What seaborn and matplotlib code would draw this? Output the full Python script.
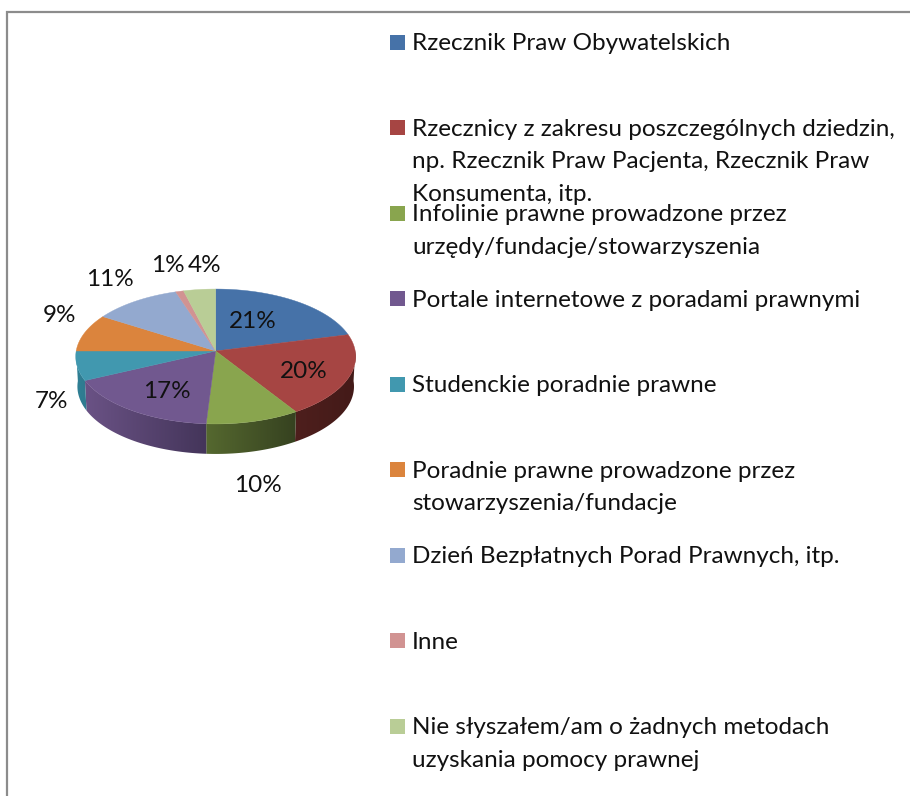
import numpy as np
import matplotlib
matplotlib.use("Agg")
import matplotlib.pyplot as plt
from matplotlib.patches import Polygon, Rectangle
import seaborn as sns

legend_labels = [
    "Rzecznik Praw Obywatelskich",
    "Rzecznicy z zakresu poszczególnych dziedzin,\nnp. Rzecznik Praw Pacjenta, Rzecznik Praw\nKonsumenta, itp.",
    "Infolinie prawne prowadzone przez\nurzędy/fundacje/stowarzyszenia",
    "Portale internetowe z poradami prawnymi",
    "Studenckie poradnie prawne",
    "Poradnie prawne prowadzone przez\nstowarzyszenia/fundacje",
    "Dzień Bezpłatnych Porad Prawnych, itp.",
    "Inne",
    "Nie słyszałem/am o żadnych metodach\nuzyskania pomocy prawnej",
]
values = [21, 20, 10, 17, 7, 9, 11, 1, 4]
top_colors = ["#4672A8", "#A64543", "#89A54E", "#71588F", "#4198AF",
              "#DB843D", "#93A9CF", "#D19392", "#B9CD96"]
side_left = ["#2F4F78", "#4E1F1D", "#55682F", "#6A5285", "#2F8095",
             "#9E5F2C", "#6A7A95", "#966A69", "#85946C"]
side_right = ["#2F4F78", "#431A18", "#364220", "#44355A", "#2F7A8F",
              "#9E5F2C", "#6A7A95", "#966A69", "#85946C"]
pct_pos = [(253, 321), (304, 371), (258, 485), (167, 391), (51, 401),
           (59, 315), (110, 279), (168, 266), (205, 266)]

CX, CY, RX, RY, PERSP, DEPTH = 215.7, 351, 139.5, 67, 0.0815, 30
FS = 17.5

sns.set_theme(style="white")
plt.rcParams["font.family"] = ["Lato", "DejaVu Sans"]
palette = sns.color_palette(top_colors)

fig = plt.figure(figsize=(9.10, 7.96), dpi=100, facecolor="white")
ax = fig.add_axes([0, 0, 1, 1])


def rim(theta, shrink=1.0, drop=0.0):
    # Perspective projection of the pie's circle onto the tilted disc
    t = np.radians(theta)
    s, c = np.sin(t), np.cos(t)
    w = 1 + PERSP * s
    return np.column_stack([CX + RX * shrink * c / w, CY + drop - RY * s / w])


wedges, _ = ax.pie(values, colors=palette, startangle=90, counterclock=False)
angles = [(w.theta1, w.theta2) for w in wedges]
for w in wedges:
    w.remove()

ax.set_xlim(0, 910)
ax.set_ylim(796, 0)
ax.set_aspect("auto")
ax.axis("off")

# Side wall of the disc
for (t1, t2), c1, c2 in zip(angles, side_left, side_right):
    th = np.linspace(t1, t2, 300)
    th = th[np.sin(np.radians(th)) <= 1e-9]
    if len(th) < 2:
        continue
    poly = np.vstack([rim(th), rim(th[::-1], 0.988, DEPTH)])
    patch = Polygon(poly, closed=True, facecolor="none", edgecolor="none")
    ax.add_patch(patch)
    a = np.array(matplotlib.colors.to_rgb(c1))
    b = np.array(matplotlib.colors.to_rgb(c2))
    x0, x1 = poly[:, 0].min(), poly[:, 0].max()
    grad = np.linspace(a, b, 64)[None, :, :]
    im = ax.imshow(grad, extent=(x0, x1, poly[:, 1].max(), poly[:, 1].min()),
                   aspect="auto", zorder=2, interpolation="bilinear")
    im.set_clip_path(patch)

# Top face of the disc
for (t1, t2), col in zip(angles, palette):
    th = np.linspace(t1, t2, 200)
    poly = np.vstack([[CX, CY], rim(th)])
    ax.add_patch(Polygon(poly, closed=True, facecolor=col, edgecolor=col,
                         linewidth=0.3, zorder=3))

ax.set_xlim(0, 910)
ax.set_ylim(796, 0)

# Percentage labels
for v, (x, y) in zip(values, pct_pos):
    ax.text(x, y, f"{v}%", ha="center", va="center", fontsize=FS,
            color="#111111", zorder=5)

# Legend
for i, (label, col) in enumerate(zip(legend_labels, palette)):
    yc = 42.3 + 85.5 * i
    ax.add_patch(Rectangle((390, yc - 7.5), 15, 15, facecolor=col,
                           edgecolor="none", zorder=4))
    for j, line in enumerate(label.split("\n")):
        ax.text(412, yc + 8 + 32.7 * j, line, ha="left", va="baseline",
                fontsize=FS, color="#111111", zorder=5)

# Chart frame
ax.plot([7, 7, 910], [796, 12, 12], color="#8C8C8C", lw=1.6, zorder=6,
        solid_joinstyle="miter", clip_on=False)

fig.savefig("out.png", dpi=100, facecolor="white")
